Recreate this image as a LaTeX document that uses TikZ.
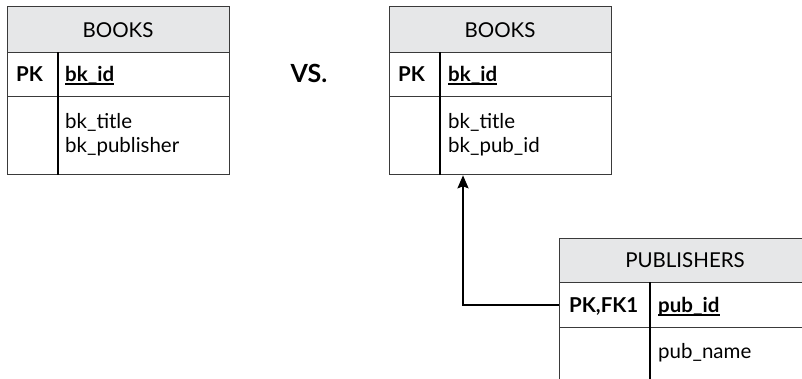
\documentclass[tikz,border=0pt]{standalone}
\usepackage{fontspec}
\setmainfont{Lato}
\usetikzlibrary{arrows.meta}
\definecolor{hdrgray}{HTML}{E6E7E8}
\definecolor{bordergray}{HTML}{3A3A3A}
\tikzset{
  cellbox/.style={draw=bordergray, line width=1.3pt, anchor=north west, inner sep=0pt, minimum width=#1},
  hdrbox/.style={cellbox=#1, fill=hdrgray, minimum height=46pt},
  divline/.style={draw=black, line width=2pt},
  txt/.style={anchor=base west, inner sep=0pt, font=\fontsize{20.5}{24}\selectfont},
  keytxt/.style={txt, font=\fontsize{20.5}{24}\selectfont\bfseries},
  hdrtxt/.style={anchor=base, inner sep=0pt, font=\fontsize{20.5}{24}\selectfont},
  uline/.style={draw=black, line width=1.3pt},
  fkarrow/.style={draw=black, line width=2pt, -{Stealth[length=13pt,width=11pt,inset=2pt]}}
}
\begin{document}
\begin{tikzpicture}[x=1pt,y=-1pt]
\useasboundingbox (0,0) rectangle (802,378);
\clip (0,0) rectangle (802,378);
% ---------- left BOOKS table ----------
\node[hdrbox=222pt] (b1h) at (7,6) {};
\node[cellbox=50pt, minimum height=44pt] (b1pk) at (7,52) {};
\node[cellbox=172pt, minimum height=44pt] (b1key) at (57,52) {};
\node[cellbox=50pt, minimum height=78pt] (b1bl) at (7,96) {};
\node[cellbox=172pt, minimum height=78pt] (b1br) at (57,96) {};
\draw[divline] (b1pk.north east) -- (b1bl.south east);
\node[hdrtxt] (b1title) at (118,37) {BOOKS};
\node[keytxt] (b1pkt) at (16,81) {PK};
\node[keytxt] (b1id) at (65,81) {bk\_id};
\draw[uline] ([yshift=-3pt]b1id.base west) -- ([yshift=-3pt]b1id.base east);
\node[txt] (b1f1) at (65,128) {bk\_title};
\node[txt] (b1f2) at (65,152) {bk\_publisher};
% ---------- VS. ----------
\node[anchor=base, inner sep=0pt, font=\fontsize{25}{28}\selectfont\bfseries] (vs) at (309,82) {VS.};
% ---------- right BOOKS table ----------
\node[hdrbox=222pt] (b2h) at (389,6) {};
\node[cellbox=50pt, minimum height=44pt] (b2pk) at (389,52) {};
\node[cellbox=172pt, minimum height=44pt] (b2key) at (439,52) {};
\node[cellbox=50pt, minimum height=78pt] (b2bl) at (389,96) {};
\node[cellbox=172pt, minimum height=78pt] (b2br) at (439,96) {};
\draw[divline] (b2pk.north east) -- (b2bl.south east);
\node[hdrtxt] (b2title) at (500,37) {BOOKS};
\node[keytxt] (b2pkt) at (398,81) {PK};
\node[keytxt] (b2id) at (448,81) {bk\_id};
\draw[uline] ([yshift=-3pt]b2id.base west) -- ([yshift=-3pt]b2id.base east);
\node[txt] (b2f1) at (448,128) {bk\_title};
\node[txt] (b2f2) at (448,152) {bk\_pub\_id};
% ---------- PUBLISHERS table ----------
\node[hdrbox=252pt, minimum height=44pt] (ph) at (559,238) {};
\node[cellbox=90pt, minimum height=45pt] (ppk) at (559,282) {};
\node[cellbox=162pt, minimum height=45pt] (pkey) at (649,282) {};
\node[cellbox=90pt, minimum height=80pt] (pbl) at (559,327) {};
\node[cellbox=162pt, minimum height=80pt] (pbr) at (649,327) {};
\draw[divline] (ppk.north east) -- (pbl.south east);
\node[hdrtxt] (ptitle) at (685,267) {PUBLISHERS};
\node[keytxt] (ppkt) at (569,312) {PK,FK1};
\node[keytxt] (pid) at (658,312) {pub\_id};
\draw[uline] ([yshift=-3pt]pid.base west) -- ([yshift=-3pt]pid.base east);
\node[txt] (pf1) at (658,358) {pub\_name};
% ---------- relationship ----------
\coordinate (arrx) at (463,0);
\draw[fkarrow] (ppk.west) -| (arrx |- b2bl.south);
\end{tikzpicture}
\end{document}
